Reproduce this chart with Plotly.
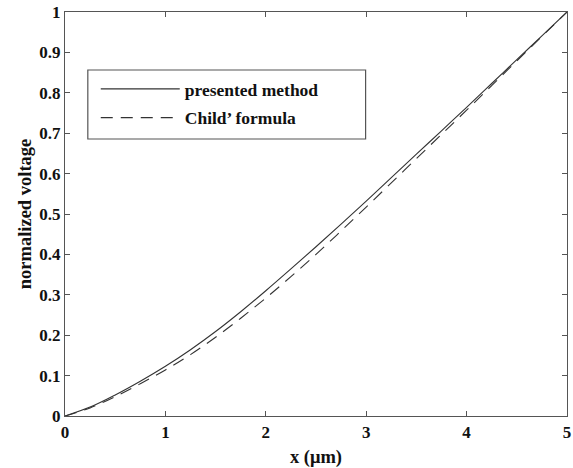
import plotly.graph_objects as go

x_um = [0, 0.25, 0.5, 0.75, 1.0, 1.25, 1.5, 1.75, 2.0, 2.25, 2.5, 2.75, 3.0,
        3.25, 3.5, 3.75, 4.0, 4.25, 4.5, 4.75, 5.0]
presented = [0, 0.022, 0.052, 0.086, 0.123, 0.164, 0.209, 0.258, 0.310, 0.364,
             0.419, 0.475, 0.532, 0.590, 0.648, 0.706, 0.764, 0.823, 0.882, 0.941, 1.0]
child = [0, 0.020, 0.048, 0.080, 0.114, 0.152, 0.195, 0.242, 0.292, 0.345,
         0.400, 0.458, 0.517, 0.577, 0.637, 0.697, 0.757, 0.818, 0.879, 0.9395, 1.0]

xticks = [0, 1, 2, 3, 4, 5]
yticks = [0, 0.1, 0.2, 0.3, 0.4, 0.5, 0.6, 0.7, 0.8, 0.9, 1.0]
ytick_text = ["0", "0.1", "0.2", "0.3", "0.4", "0.5", "0.6", "0.7", "0.8", "0.9", "1"]

FONT = "Liberation Serif"
INK = "#333333"
W, H = 573, 468
ML, MR, MT, MB = 65, 2, 12, 52
PW, PH = W - ML - MR, H - MT - MB

fig = go.Figure()
fig.add_trace(go.Scatter(x=x_um, y=presented, mode="lines", name="presented method",
                         legendgroup="a", line_shape="spline",
                         line=dict(color=INK, width=1.1, dash="solid")))
fig.add_trace(go.Scatter(x=x_um, y=child, mode="lines", name="Child\u2019 formula",
                         legendgroup="b", line_shape="spline",
                         line=dict(color=INK, width=1.1, dash="12px,8px")))

axis_common = dict(showline=True, linecolor="#555555", linewidth=1.2, mirror="ticks",
                   ticks="inside", ticklen=5, tickcolor="#555555", showgrid=False,
                   zeroline=False, ticklabeloverflow="allow",
                   tickfont=dict(family=FONT, size=17, color="#111111", weight="bold"))

fig.update_xaxes(range=[0, 5], tickvals=xticks, ticktext=[str(v) for v in xticks],
                 title=dict(text="x (\u03bcm)", standoff=9,
                            font=dict(family=FONT, size=18.5, color="#111111", weight="bold")),
                 **axis_common)
fig.update_yaxes(range=[0, 1], tickvals=yticks, ticktext=ytick_text,
                 title=dict(text="normalized voltage", standoff=2,
                            font=dict(family=FONT, size=18.5, color="#111111", weight="bold")),
                 **axis_common)

# legend frame (pixel box converted to paper coordinates)
box_l, box_r, box_t, box_b = 88, 368, 70, 139
fig.add_shape(type="rect", xref="paper", yref="paper",
              x0=(box_l - ML) / PW, x1=(box_r - ML) / PW,
              y0=(H - MB - box_b) / PH, y1=(H - MB - box_t) / PH,
              line=dict(color="#555555", width=1.2), fillcolor="rgba(0,0,0,0)",
              layer="above")

fig.update_layout(
    width=W, height=H,
    margin=dict(l=ML, r=MR, t=MT, b=MB),
    plot_bgcolor="white", paper_bgcolor="white",
    showlegend=True,
    legend=dict(x=(96 - ML) / PW, y=(H - MB - 71) / PH, xanchor="left", yanchor="top",
                borderwidth=0, bgcolor="rgba(0,0,0,0)",
                traceorder="grouped", tracegroupgap=3,
                itemwidth=79,
                font=dict(family=FONT, size=17.5, color="#111111", weight="bold")),
)

fig.write_html("out.html", config={"displayModeBar": False},
               post_script="document.body.style.margin='0';document.body.style.padding='0';")
